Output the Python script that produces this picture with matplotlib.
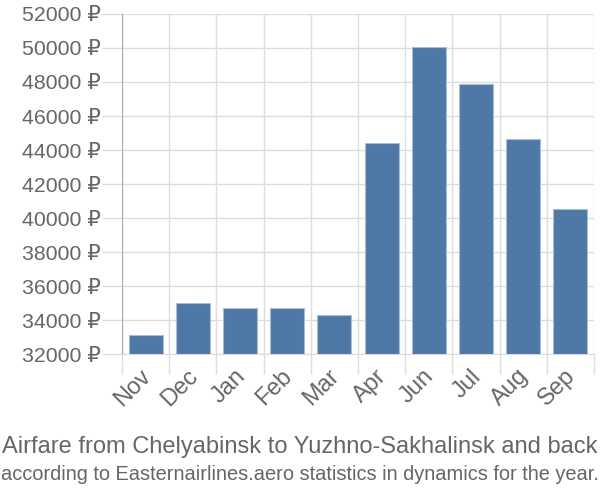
import matplotlib
matplotlib.use("Agg")
import matplotlib.pyplot as plt
import matplotlib.transforms as mtransforms
import numpy as np

# Chart data
MONTHS = ["Nov", "Dec", "Jan", "Feb", "Mar", "Apr", "Jun", "Jul", "Aug", "Sep"]
PRICES = [33100, 35000, 34720, 34680, 34310, 44400, 50060, 47870, 44660, 40540]
Y_TICKS = list(range(32000, 52001, 2000))

TITLE = "Airfare from Chelyabinsk to Yuzhno-Sakhalinsk and back"
SUBTITLE = "according to Easternairlines.aero statistics in dynamics for the year."

TEXT_COLOR = "#666666"
GRID_COLOR = "#dddddd"
BAR_COLOR = "#4e78a6"

plt.rcParams['font.family'] = ['Liberation Sans', 'DejaVu Sans']

fig = plt.figure(figsize=(6, 5), dpi=100)
ax = fig.add_axes([0.2033, 0.292, 0.7867, 0.68])

x = np.arange(len(MONTHS))
ax.bar(x, PRICES, width=0.72, color=BAR_COLOR, edgecolor="#a9bdd4", linewidth=0.8, zorder=3)

ax.set_xlim(-0.5, len(MONTHS) - 0.5)
ax.set_ylim(32000, 52000)

# y axis (tick length in points: 14.4pt = 20px)
ax.set_yticks(Y_TICKS)
ax.set_yticklabels([f"{v} \u20bd" for v in Y_TICKS], fontsize=15.3, color=TEXT_COLOR)
ax.tick_params(axis='y', length=14.4, width=1, color=GRID_COLOR, pad=1)

# x axis: labels at centers, ticks at boundaries
ax.set_xticks(x)
ax.set_xticklabels(MONTHS, fontsize=17, color=TEXT_COLOR, rotation=45,
                   ha='right', va='top', rotation_mode='anchor')
ax.tick_params(axis='x', which='major', length=0, pad=8)
shift = mtransforms.ScaledTranslation(-6 / 100, 0, fig.dpi_scale_trans)
for lbl in ax.get_xticklabels():
    lbl.set_transform(lbl.get_transform() + shift)
ax.set_xticks(np.arange(-0.5, len(MONTHS)), minor=True)
ax.tick_params(axis='x', which='minor', length=14.4, width=1, color=GRID_COLOR)

ax.grid(True, which='minor', axis='x', color=GRID_COLOR, linewidth=1, zorder=0)
ax.grid(True, which='major', axis='y', color=GRID_COLOR, linewidth=1, zorder=0)

for side in ['top', 'right']:
    ax.spines[side].set_visible(False)
ax.spines['left'].set_color("#aaaaaa")
ax.spines['bottom'].set_color(GRID_COLOR)

fig.text(0.5, 0.106, TITLE, ha='center', va='center', fontsize=17, color=TEXT_COLOR)
fig.text(0.5, 0.05, SUBTITLE, ha='center', va='center', fontsize=14.4, color=TEXT_COLOR)

fig.savefig("out.png", dpi=100)
